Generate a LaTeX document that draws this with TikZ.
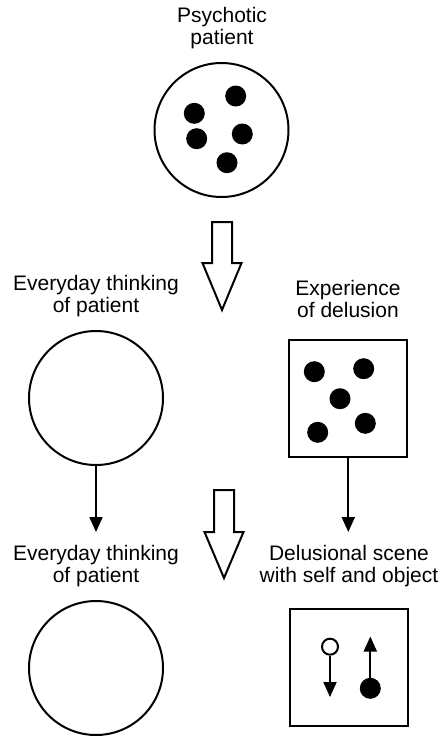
\documentclass[tikz,border=0pt]{standalone}
\usepackage{fontspec}
\setmainfont{Liberation Sans}
\usetikzlibrary{arrows.meta}
\begin{document}
\begin{tikzpicture}[x=1pt,y=-1pt,
  outl/.style={line width=2pt},
  bigcirc/.style={outl,draw,circle,minimum size=134pt,inner sep=0pt},
  sqbox/.style={outl,draw,rectangle,minimum width=118pt,minimum height=117pt,inner sep=0pt},
  dot/.style={fill,circle,minimum size=21pt,inner sep=0pt},
  lbl/.style={align=center,font=\fontsize{21}{22}\selectfont,inner sep=0pt},
  conn/.style={outl,-{Triangle[width=13pt,length=15pt]}},
  blockarrow/.style={outl,draw,fill=white,line join=miter}
]
\useasboundingbox (0,0) rectangle (445,740);

% top
\node[lbl] (lpsy) at (222,28) {Psychotic\\patient};
\node[bigcirc] (psy) at (221.5,130) {};
\foreach \p [count=\i] in {(235.7,96),(194.3,113.3),(196.7,138.7),(242.3,134),(227,162.7)}
  \node[dot] (pd\i) at \p {};

% block arrow 1
\draw[blockarrow] (212,222) -- (232,222) -- (232,263) -- (241.5,263) -- (222,310)
  -- (202.5,263) -- (212,263) -- cycle;

% left middle
\node[lbl] (leve1) at (96,296.5) {Everyday thinking\\of patient};
\node[bigcirc] (eve1) at (96,398) {};

% right middle
\node[lbl] (lexp) at (348,298.5) {Experience\\of delusion};
\node[sqbox] (exp) at (348.3,398.5) {};
\foreach \p [count=\i] in {(314.3,371.7),(363.7,368.7),(340,398.7),(365.3,423.3),(317.7,432.3)}
  \node[dot] (ed\i) at \p {};

% connectors
\coordinate (t1) at (96,532);
\coordinate (t2) at (348.3,532);
\draw[conn] (eve1.south) -- (t1);
\draw[conn] (exp.south) -- (t2);

% block arrow 2
\draw[blockarrow] (214,490) -- (234,490) -- (234,532) -- (243.5,532) -- (224,578)
  -- (204.5,532) -- (214,532) -- cycle;

% bottom left
\node[lbl] (leve2) at (96,566) {Everyday thinking\\of patient};
\node[bigcirc] (eve2) at (96,668) {};

% bottom right
\node[lbl] (ldel) at (349,566) {Delusional scene\\with self and object};
\node[sqbox] (del) at (348.5,667.5) {};
\node[outl,draw,fill=white,circle,minimum size=16pt,inner sep=0pt] (self) at (330,646.7) {};
\coordinate (selftip) at (330,697);
\draw[conn] (self.south) -- (selftip);
\node[dot] (obj) at (370.3,688.3) {};
\coordinate (objtip) at (370.3,636.5);
\draw[conn] (obj.north) -- (objtip);
\end{tikzpicture}
\end{document}
